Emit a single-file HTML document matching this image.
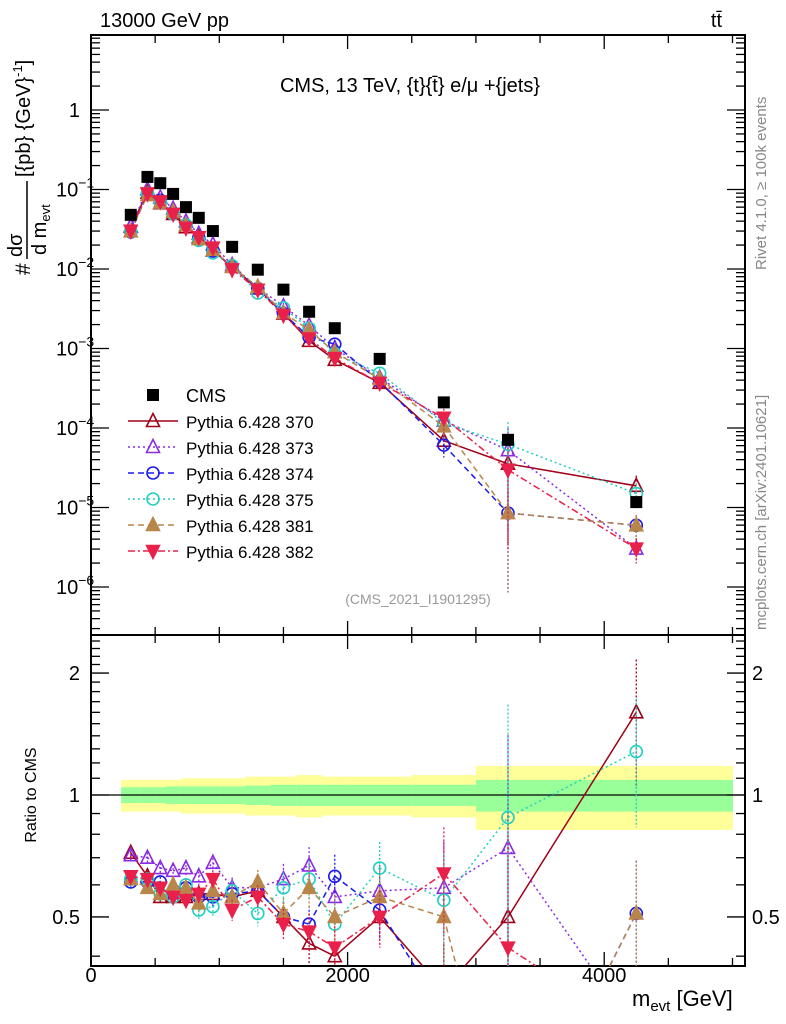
<!DOCTYPE html>
<html><head><meta charset="utf-8"><style>
html,body{margin:0;padding:0;background:#fff;width:786px;height:1024px;overflow:hidden}
svg{display:block;font-family:"Liberation Sans",sans-serif}
</style></head><body>
<svg id="c" width="786" height="1024" viewBox="0 0 786 1024" xmlns="http://www.w3.org/2000/svg"></svg>
<script>
const binCenters=[310,440,540,640,740,840,950,1100,1300,1500,1700,1900,2250,2750,3250,4250];
const binEdges=[235,380,500,580,700,780,900,1000,1200,1400,1600,1800,2000,2500,3000,3500,5000];
const cmsValues=[0.048,0.144,0.12,0.088,0.060,0.044,0.030,0.019,0.0098,0.0055,0.0029,0.0018,7.4e-4,2.1e-4,7.1e-5,1.17e-5];
const bandYellow=[0.09,0.09,0.09,0.09,0.10,0.10,0.10,0.10,0.11,0.11,0.12,0.11,0.11,0.12,0.18,0.18];
const bandGreen=[0.045,0.045,0.045,0.05,0.05,0.05,0.05,0.05,0.055,0.06,0.06,0.06,0.06,0.06,0.09,0.09];
const relErr=[0.03,0.03,0.03,0.04,0.04,0.05,0.05,0.06,0.07,0.09,0.11,0.13,0.16,0.3,0.9,0.35];
const r370=[0.72,0.63,0.56,0.56,0.56,0.57,0.57,0.56,0.58,0.50,0.43,0.40,0.50,0.33,0.50,1.6];
const r373=[0.71,0.70,0.66,0.65,0.66,0.63,0.68,0.59,0.59,0.62,0.67,0.56,0.58,0.59,0.74,0.26];
const r374=[0.61,0.61,0.61,0.57,0.59,0.56,0.56,0.57,0.58,0.50,0.48,0.63,0.52,0.29,0.12,0.51];
const r375=[0.62,0.62,0.57,0.56,0.60,0.52,0.53,0.58,0.51,0.59,0.62,0.48,0.66,0.55,0.88,1.28];
const r381=[0.62,0.59,0.57,0.60,0.59,0.54,0.58,0.56,0.61,0.51,0.59,0.50,0.56,0.50,0.12,0.51];
const r382=[0.63,0.62,0.59,0.56,0.55,0.57,0.62,0.52,0.56,0.48,0.46,0.42,0.50,0.64,0.42,0.26];
const seriesNames=["Pythia 6.428 370","Pythia 6.428 373","Pythia 6.428 374","Pythia 6.428 375","Pythia 6.428 381","Pythia 6.428 382"];

const NS="http://www.w3.org/2000/svg";
const svg=document.getElementById('c');
const L=91,R=745,T=35,M=635,B=966;
const X=v=>L+v*0.1283;
const Y=v=>110-79.5*Math.log10(v);
const YR=v=>795-405*Math.log10(v);
const clamp=(v,a,b)=>Math.min(Math.max(v,a),b);
function el(tag,attrs,parent){const e=document.createElementNS(NS,tag);for(const k in attrs)e.setAttribute(k,attrs[k]);(parent||svg).appendChild(e);return e;}
function txt(s,x,y,attrs,parent){const t=el('text',Object.assign({x:x,y:y,'font-size':20},attrs||{}),parent);t.textContent=s;return t;}
function clipPathD(pts,ymin,ymax){
  let d='';
  for(let i=0;i<pts.length-1;i++){
    let [x1,y1]=pts[i],[x2,y2]=pts[i+1];
    if((y1<ymin&&y2<ymin)||(y1>ymax&&y2>ymax))continue;
    const cut=(xa,ya,xb,yb,yc)=>xa+(xb-xa)*(yc-ya)/(yb-ya);
    let a=[x1,y1],b=[x2,y2];
    if(a[1]>ymax){a=[cut(x1,y1,x2,y2,ymax),ymax];}else if(a[1]<ymin){a=[cut(x1,y1,x2,y2,ymin),ymin];}
    if(b[1]>ymax){b=[cut(x1,y1,x2,y2,ymax),ymax];}else if(b[1]<ymin){b=[cut(x1,y1,x2,y2,ymin),ymin];}
    d+=`M${a[0]},${a[1]}L${b[0]},${b[1]}`;
  }
  return d||'M0,0';
}

const defs=el('defs',{});
const c1=el('clipPath',{id:'cm'},defs);el('rect',{x:L,y:T,width:R-L,height:M-T},c1);
const c2=el('clipPath',{id:'cr'},defs);el('rect',{x:L,y:M,width:R-L,height:B-M},c2);

const bands=el('g',{'clip-path':'url(#cr)'});


for(let i=0;i<binCenters.length;i++){
  const x0=X(binEdges[i]),x1=X(binEdges[i+1]);
  const r=el('rect',{x:x0,y:YR(1+bandYellow[i]),width:x1-x0+0.5,height:YR(1-bandYellow[i])-YR(1+bandYellow[i]),fill:'#ffff99'},bands);
  
  const g=el('rect',{x:x0,y:YR(1+bandGreen[i]),width:x1-x0+0.5,height:YR(1-bandGreen[i])-YR(1+bandGreen[i]),fill:'#99ff99'},bands);
  
}
el('line',{x1:L,x2:R,y1:YR(1),y2:YR(1),stroke:'#000','stroke-width':1.2});

el('rect',{x:L,y:T,width:R-L,height:M-T,fill:'none',stroke:'#000','stroke-width':2});
el('rect',{x:L,y:M,width:R-L,height:B-M,fill:'none',stroke:'#000','stroke-width':2});

for(let v=0;v<=5000;v+=500){
  const x=X(v),len=(v%2000===0)?14:8;
  [[T,1],[M,1],[M,-1],[B,-1]].forEach(([y,d])=>el('line',{x1:x,x2:x,y1:y,y2:y+d*len,stroke:'#000','stroke-width':1.3}));
  if(v%2000===0){const t=txt(String(v),x,982,{'text-anchor':'middle'});}
}
for(let e=-7;e<=1;e++){for(let m=1;m<10;m++){const v=m*Math.pow(10,e);const y=Y(v);if(y<T||y>M)continue;const len=m===1?18:9;
  el('line',{x1:L,x2:L+len,y1:y,y2:y,stroke:'#000','stroke-width':1.3});el('line',{x1:R,x2:R-len,y1:y,y2:y,stroke:'#000','stroke-width':1.3});}}
[0,-1,-2,-3,-4,-5,-6].forEach(e=>{const y=Y(Math.pow(10,e))+7;
  const t=el('text',{x:80,y:y,'font-size':20,'text-anchor':'end'});
  if(e===0)t.textContent='1';else{t.textContent='10';const s=el('tspan',{dy:-9,'font-size':14},t);s.textContent='\u2212'+(-e);t.setAttribute('x',56);t.setAttribute('text-anchor','start');}
});
for(let v=0.4;v<2.5;v+=0.1){const vv=Math.round(v*10)/10;const y=YR(vv);if(y<M||y>B)continue;const len=(vv===0.5||vv===1||vv===2)?18:9;
  el('line',{x1:L,x2:L+len,y1:y,y2:y,stroke:'#000','stroke-width':1.3});el('line',{x1:R,x2:R-len,y1:y,y2:y,stroke:'#000','stroke-width':1.3});}
[[2,'2'],[1,'1'],[0.5,'0.5']].forEach(([v,s])=>{const y=YR(v)+7;
  const a=txt(s,80,y,{'text-anchor':'end'});
  const b=txt(s,752,y);});

function marker(type,x,y,color,g){
  const s=6.5;let e;
  if(type==='sq')e=el('rect',{x:x-6,y:y-6,width:12,height:12,fill:'#000'},g);
  else if(type==='tri'||type==='ftri')e=el('polygon',{points:`${x},${y-s-1} ${x-s},${y+s-1} ${x+s},${y+s-1}`,fill:type==='ftri'?color:'#fff','fill-opacity':type==='ftri'?1:0,stroke:color,'stroke-width':1.6},g);
  else if(type==='dtri')e=el('polygon',{points:`${x},${y+s+1} ${x-s},${y-s+1} ${x+s},${y-s+1}`,fill:color,stroke:color,'stroke-width':1.5},g);
  else e=el('circle',{cx:x,cy:y,r:6,fill:'none',stroke:color,'stroke-width':1.6},g);
  
}
function ebar(x,y0,y1,color,dash,g){
  const e=el('line',{x1:x,x2:x,y1:y0,y2:y1,stroke:color,'stroke-width':1.3,'stroke-dasharray':dash},g);
  
}
const series=[
  {r:r370,c:'#a00018',m:'tri',d:''},
  {r:r373,c:'#8a2be2',m:'tri',d:'2,3'},
  {r:r374,c:'#1a1aee',m:'circ',d:'6,4'},
  {r:r375,c:'#20d0c0',m:'circ',d:'2,3'},
  {r:r381,c:'#b8864a',m:'ftri',d:'6,4'},
  {r:r382,c:'#e8204a',m:'dtri',d:'7,3,2,3'}
];
const gm=el('g',{'clip-path':'url(#cm)'});
const gr=el('g',{'clip-path':'url(#cr)'});
series.forEach((s,k)=>{
  const g1=el('g',{},gm);
  const g2=el('g',{},gr);
  const pm=binCenters.map((x,i)=>[X(x),Y(cmsValues[i]*s.r[i])]);
  const pr=binCenters.map((x,i)=>[X(x),YR(s.r[i])]);
  const l1=el('path',{d:clipPathD(pm,T,M),fill:'none',stroke:s.c,'stroke-width':1.5,'stroke-dasharray':s.d},g1);
  const l2=el('path',{d:clipPathD(pr,M,B),fill:'none',stroke:s.c,'stroke-width':1.5,'stroke-dasharray':s.d},g2);
  binCenters.forEach((x,i)=>{
    const v=cmsValues[i]*s.r[i],er=relErr[i];
    const lo=er>=1?1e-9:v*(1-er);
    ebar(X(x),clamp(Y(v*(1+er)),T,M),clamp(Y(lo),T,M),s.c,'2,2',g1);
    const ry=YR(s.r[i]);
    const rlo=clamp(YR(Math.max(s.r[i]*(1-er),0.01)),M,B),rhi=clamp(YR(s.r[i]*(1+er)),M,B);
    if(rlo>rhi)ebar(X(x),rhi,rlo,s.c,'2,2',g2);
    marker(s.m,X(x),Y(v),s.c,g1);
    if(ry>M-4&&ry<B+4)marker(s.m,X(x),ry,s.c,g2);});
});
const gc=el('g',{'clip-path':'url(#cm)'});
binCenters.forEach((x,i)=>marker('sq',X(x),Y(cmsValues[i]),'#000',gc));

const lg=el('g',{});
const ly0=395;
marker('sq',153,ly0,'#000',lg);
let t0=txt('CMS',186,ly0+7,{'font-size':18},lg);
series.forEach((s,k)=>{const y=ly0+26*(k+1);
  el('line',{x1:128,x2:178,y1:y,y2:y,stroke:s.c,'stroke-width':1.5,'stroke-dasharray':s.d},lg);
  marker(s.m,153,y,s.c,lg);
  const t=txt(seriesNames[k],186,y+7,{'font-size':17},lg);});

let t;
t=txt('13000 GeV pp',100,27);
t=txt('t',722,27,{'text-anchor':'end'});const tb=el('tspan',{},t);tb.textContent='t\u0304';
t=txt('CMS, 13 TeV, {t}{t\u0304} e/\u03bc +{jets}',410,92,{'text-anchor':'middle'});
t=txt('(CMS_2021_I1901295)',418,604,{'text-anchor':'middle','font-size':14,fill:'#999'});
t=txt('Rivet 4.1.0, \u2265 100k events',0,0,{'font-size':15,fill:'#888',transform:'translate(766,270) rotate(-90)'});
t=txt('mcplots.cern.ch [arXiv:2401.10621]',0,0,{'font-size':15,fill:'#888',transform:'translate(766,630) rotate(-90)'});
t=txt('Ratio to CMS',0,0,{'font-size':16,'text-anchor':'middle',transform:'translate(36,795) rotate(-90)'});
t=txt('m',632,1006,{'font-size':22});const sb=el('tspan',{dy:5,'font-size':15},t);sb.textContent='evt';const sb2=el('tspan',{dy:-5},t);sb2.textContent=' [GeV]';
const yt=el('g',{transform:'translate(30,275) rotate(-90)'});
txt('#',0,0,{'font-size':21},yt);
txt('d\u03c3',18,-8,{'font-size':20},yt);
el('line',{x1:16,x2:94,y1:-3,y2:-3,stroke:'#000','stroke-width':1.5},yt);
const dm=txt('d m',20,16,{'font-size':20},yt);const ds=el('tspan',{dy:4,'font-size':13},dm);ds.textContent='evt';
const u=txt('[{pb} {GeV}',98,0,{'font-size':20},yt);const us=el('tspan',{dy:-8,'font-size':13},u);us.textContent='-1';const ue=el('tspan',{dy:8},u);ue.textContent=']';
</script>
</body></html>
